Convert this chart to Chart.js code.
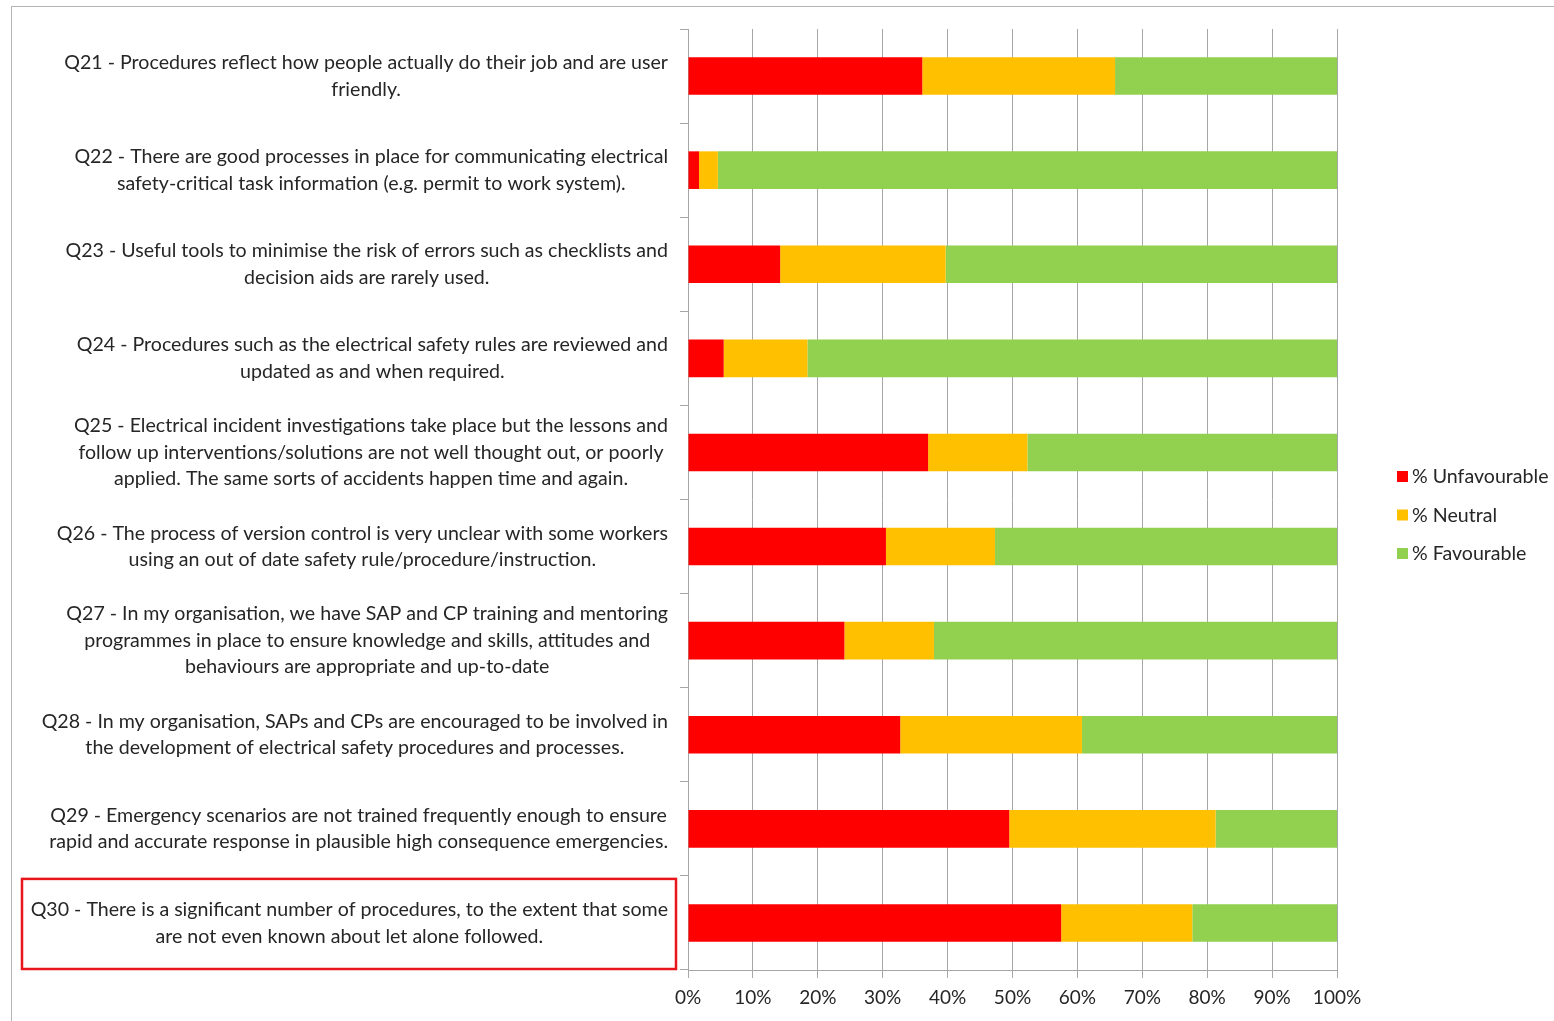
<!DOCTYPE html>
<html>
<head>
<meta charset="utf-8">
<script src="https://cdn.jsdelivr.net/npm/chart.js@4"></script>
<style>
  html, body { margin: 0; padding: 0; background: #fff; }
  #wrap { position: relative; width: 1554px; height: 1021px; }
  #frame { position: absolute; left: 11px; top: 6px; right: 0; bottom: 0; border-top: 1px solid #b4b4b4; border-left: 1px solid #b4b4b4; pointer-events: none; }
  canvas { position: absolute; left: 0; top: 0; }
</style>
</head>
<body>
<div id="wrap">
  <canvas id="chart" width="1554" height="1021"></canvas>
  <div id="frame"></div>
</div>
<script>
// Question labels (one array entry per line)
const questions = [
  ['Q21 - Procedures reflect how people actually do their job and are user', 'friendly.'],
  ['Q22 - There are good processes in place for communicating electrical', 'safety-critical task information (e.g. permit to work system).'],
  ['Q23 - Useful tools to minimise the risk of errors such as checklists and', 'decision aids are rarely used.'],
  ['Q24 - Procedures such as the electrical safety rules are reviewed and', 'updated as and when required.'],
  ['Q25 - Electrical incident investigations take place but the lessons and', 'follow up interventions/solutions are not well thought out, or poorly', 'applied. The same sorts of accidents happen time and again.'],
  ['Q26 - The process of version control is very unclear with some workers', 'using an out of date safety rule/procedure/instruction.'],
  ['Q27 - In my organisation, we have SAP and CP training and mentoring', 'programmes in place to ensure knowledge and skills, attitudes and', 'behaviours are appropriate and up-to-date'],
  ['Q28 - In my organisation, SAPs and CPs are encouraged to be involved in', 'the development of electrical safety procedures and processes.'],
  ['Q29 - Emergency scenarios are not trained frequently enough to ensure', 'rapid and accurate response in plausible high consequence emergencies.'],
  ['Q30 - There is a significant number of procedures, to the extent that some', 'are not even known about let alone followed.']
];

// percentages
const unfavourable = [36.1, 1.7, 14.2, 5.5, 37.0, 30.5, 24.1, 32.7, 49.5, 57.5];
const neutral      = [29.7, 2.9, 25.5, 12.9, 15.3, 16.8, 13.8, 28.0, 31.8, 20.2];
const favourable   = [34.2, 95.4, 60.3, 81.6, 47.7, 52.7, 62.1, 39.3, 18.7, 22.3];

const seriesNames = ['% Unfavourable', '% Neutral', '% Favourable'];
const seriesColors = ['#FF0000', '#FFC000', '#92D050'];
const xTicks = [0, 10, 20, 30, 40, 50, 60, 70, 80, 90, 100];
const highlighted = 9; // Q30 gets the red box

const FONT = 'Lato, "Open Sans", sans-serif';
const TXT = '#262626';

// draws the centred multi-line question labels, the red box and the legend
const extras = {
  id: 'extras',
  afterDraw(chart) {
    const ctx = chart.ctx;
    const ys = chart.scales.y;
    ctx.save();
    ctx.font = '19.6px ' + FONT;
    ctx.fillStyle = TXT;
    ctx.textBaseline = 'middle';
    ctx.textAlign = 'center';
    const lh = 26.5;
    const rightEdge = ys.right - 20;
    questions.forEach((lines, i) => {
      const yc = ys.getPixelForValue(i);
      const w = Math.max(...lines.map(l => ctx.measureText(l).width));
      const xc = rightEdge - w / 2;
      lines.forEach((l, k) => {
        ctx.fillText(l, xc, yc + (k - (lines.length - 1) / 2) * lh);
      });
    });

    // red highlight box around Q30
    const half = (ys.getPixelForValue(1) - ys.getPixelForValue(0)) / 2;
    const yb = ys.getPixelForValue(highlighted);
    ctx.strokeStyle = '#E8161B';
    ctx.lineWidth = 2.5;
    ctx.strokeRect(22, yb - half + 3, 654, half * 2 - 4);

    // legend
    ctx.textAlign = 'left';
    ctx.font = '19.6px ' + FONT;
    chart.data.datasets.forEach((ds, i) => {
      const y = 477 + i * 38.5;
      ctx.fillStyle = ds.backgroundColor;
      ctx.fillRect(1397, y - 6, 11, 11);
      ctx.fillStyle = TXT;
      ctx.fillText(ds.label, 1412, y);
    });
    ctx.restore();
  }
};

new Chart(document.getElementById('chart'), {
  type: 'bar',
  data: {
    labels: questions,
    datasets: [
      { label: seriesNames[0], data: unfavourable, backgroundColor: seriesColors[0] },
      { label: seriesNames[1], data: neutral, backgroundColor: seriesColors[1] },
      { label: seriesNames[2], data: favourable, backgroundColor: seriesColors[2] }
    ]
  },
  options: {
    indexAxis: 'y',
    responsive: false,
    animation: false,
    layout: { padding: { top: 29, right: 217, left: 0, bottom: 0 } },
    datasets: { bar: { barPercentage: 0.4, categoryPercentage: 1, borderWidth: 0 } },
    plugins: { legend: { display: false }, tooltip: { enabled: false } },
    scales: {
      x: {
        stacked: true,
        min: 0, max: 100,
        afterBuildTicks: s => { s.ticks = xTicks.map(v => ({ value: v })); },
        ticks: { callback: v => v + '%', color: TXT, font: { size: 19, family: FONT }, padding: 8, maxRotation: 0 },
        grid: { color: '#a6a6a6', lineWidth: 1, tickLength: 8, tickColor: '#a6a6a6' },
        border: { color: '#a6a6a6' },
        afterFit: s => { s.height = 51; }
      },
      y: {
        stacked: true,
        ticks: { display: false },
        grid: { drawOnChartArea: false, offset: true, tickLength: 8, color: '#a6a6a6' },
        border: { color: '#a6a6a6' },
        afterFit: s => { s.width = 688; }
      }
    }
  },
  plugins: [extras]
});
</script>
</body>
</html>
